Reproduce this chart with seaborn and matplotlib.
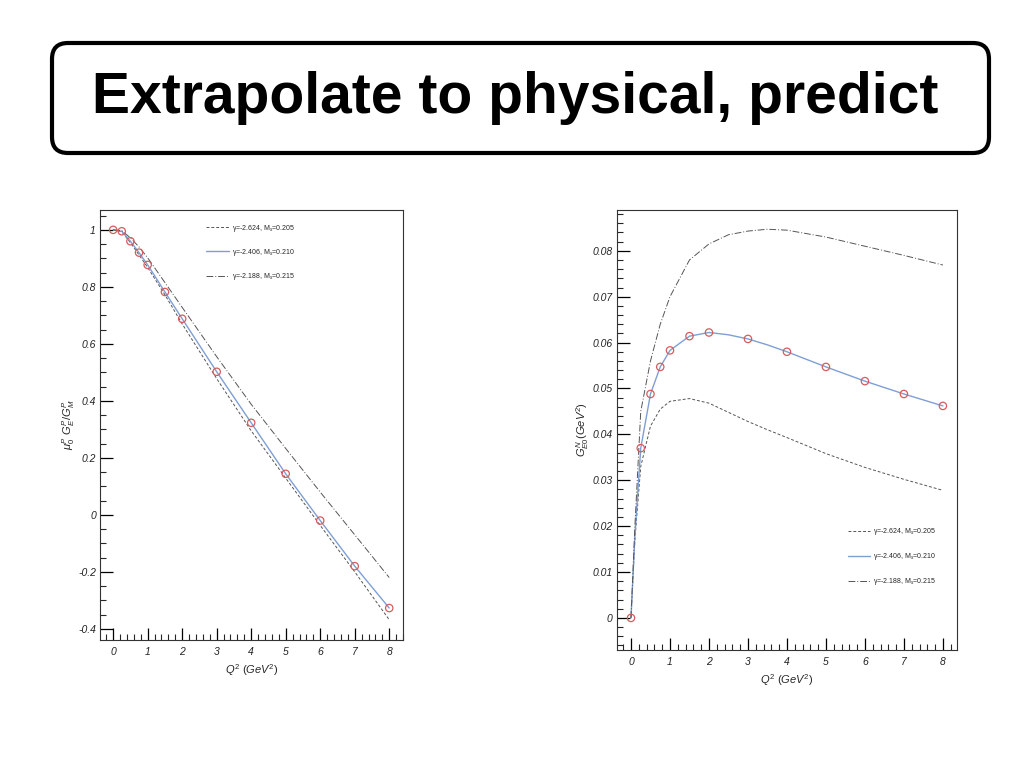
import matplotlib
matplotlib.use("Agg")
import matplotlib.pyplot as plt
import matplotlib.ticker as mticker
from matplotlib.patches import FancyBboxPatch
import seaborn as sns

# values
title = "Extrapolate to physical, predict"
labels = ["γ=-2.624, M$_s$=0.205", "γ=-2.406, M$_s$=0.210", "γ=-2.188, M$_s$=0.215"]

# left panel: mu_p G_E/G_M
q_pts = [0, 0.25, 0.5, 0.75, 1, 1.5, 2, 3, 4, 5, 6, 7, 8]
ratio_pts = [1.0, 0.995, 0.96, 0.92, 0.877, 0.782, 0.688, 0.502, 0.323, 0.144, -0.02, -0.18, -0.327]
ratio_lo = [1.0, 0.993, 0.955, 0.912, 0.868, 0.772, 0.67, 0.478, 0.295, 0.129, -0.037, -0.20, -0.368]
ratio_mid = [1.0, 0.995, 0.96, 0.92, 0.877, 0.782, 0.688, 0.502, 0.323, 0.144, -0.02, -0.18, -0.327]
ratio_hi = [1.0, 0.997, 0.972, 0.94, 0.902, 0.815, 0.728, 0.555, 0.388, 0.233, 0.08, -0.07, -0.22]

# right panel: neutron G_E
q_curve = [0, 0.1, 0.25, 0.5, 0.75, 1, 1.5, 2, 2.5, 3, 3.5, 4, 5, 6, 7, 8]
gen_lo = [0, 0.017, 0.033, 0.0418, 0.0455, 0.0472, 0.0478, 0.0468, 0.0448, 0.0428, 0.041, 0.0393, 0.0358, 0.0328, 0.0302, 0.0278]
gen_mid = [0, 0.018, 0.037, 0.0488, 0.0547, 0.0583, 0.0614, 0.0622, 0.0617, 0.0608, 0.0595, 0.058, 0.0547, 0.0516, 0.0488, 0.0462]
gen_hi = [0, 0.02, 0.045, 0.056, 0.064, 0.070, 0.078, 0.0815, 0.0835, 0.0843, 0.0847, 0.0845, 0.083, 0.081, 0.079, 0.0769]
gen_pts = [0, 0.037, 0.0488, 0.0547, 0.0583, 0.0614, 0.0622, 0.0608, 0.058, 0.0547, 0.0516, 0.0488, 0.0462]

sns.set_theme(style="ticks")
plt.rcParams['font.family'] = ['Liberation Sans', 'DejaVu Sans']
plt.rcParams['mathtext.fontset'] = 'custom'
plt.rcParams['mathtext.rm'] = 'Liberation Sans'
plt.rcParams['mathtext.it'] = 'Liberation Sans:italic'

fig = plt.figure(figsize=(10.24, 7.68), dpi=100)

# slide title in a rounded box
bg = fig.add_axes([0, 0, 1, 1])
bg.set_xlim(0, 1024)
bg.set_ylim(768, 0)
bg.axis('off')
bg.add_patch(FancyBboxPatch((52, 43), 937, 110, boxstyle="round,pad=0,rounding_size=16",
                            fc='white', ec='black', lw=3))
bg.text(92, 98, title, fontsize=41, fontweight='bold', va='center', ha='left', color='black')

style_lo = dict(color='#555555', linestyle=(0, (3, 2)), linewidth=0.7)
style_mid = dict(color='#7f9fd4', linestyle='-', linewidth=1.0)
style_hi = dict(color='#555555', linestyle=(0, (7, 2, 1, 2)), linewidth=0.7)
marker_kw = dict(marker='o', s=28, facecolor='none', edgecolor='#d45c5c', linewidth=0.9, zorder=5, legend=False)


def style_axis(ax, xlim, ylim, ymajor, yminor):
    ax.set_xlim(*xlim)
    ax.set_ylim(*ylim)
    ax.xaxis.set_major_locator(mticker.MultipleLocator(1))
    ax.xaxis.set_minor_locator(mticker.MultipleLocator(0.2))
    ax.yaxis.set_major_locator(mticker.MultipleLocator(ymajor))
    ax.yaxis.set_minor_locator(mticker.MultipleLocator(yminor))
    ax.yaxis.set_major_formatter(mticker.FuncFormatter(lambda v, p: '%g' % round(v, 4) if abs(v) > 1e-9 else '0'))
    ax.tick_params(which='major', direction='in', length=9, width=0.9, labelsize=7.5,
                   top=False, right=False, colors='black')
    ax.tick_params(axis='y', which='major', pad=3)
    ax.tick_params(axis='x', which='major', pad=5)
    ax.tick_params(which='minor', direction='in', length=4.5, width=0.8, top=False, right=False)
    for lab in ax.get_xticklabels() + ax.get_yticklabels():
        lab.set_fontstyle('italic')
        lab.set_color('#222222')
    for sp in ax.spines.values():
        sp.set_visible(True)
        sp.set_linewidth(0.8)
        sp.set_color('#333333')
    ax.set_xlabel("$Q^2$ $(GeV^2)$", fontsize=8, labelpad=4)


# left panel
ax1 = fig.add_axes([0.0977, 0.1667, 0.2959, 0.56])
sns.lineplot(x=q_pts, y=ratio_lo, ax=ax1, label=labels[0], **style_lo)
sns.lineplot(x=q_pts, y=ratio_mid, ax=ax1, label=labels[1], **style_mid)
sns.lineplot(x=q_pts, y=ratio_hi, ax=ax1, label=labels[2], **style_hi)
sns.scatterplot(x=q_pts, y=ratio_pts, ax=ax1, **marker_kw)
style_axis(ax1, (-0.38, 8.4), (-0.439, 1.07), 0.2, 0.05)
ax1.set_ylabel("$\\mu_0^P\\ G_E^P/G_M^P$", fontsize=8, labelpad=1)
ax1.legend(loc='upper left', bbox_to_anchor=(0.33, 0.985), frameon=False, fontsize=5,
           labelspacing=1.9, handlelength=3.2, handletextpad=0.5)

# right panel
ax2 = fig.add_axes([0.6025, 0.1536, 0.332, 0.573])
sns.lineplot(x=q_curve, y=gen_lo, ax=ax2, label=labels[0], **style_lo)
sns.lineplot(x=q_curve, y=gen_mid, ax=ax2, label=labels[1], **style_mid)
sns.lineplot(x=q_curve, y=gen_hi, ax=ax2, label=labels[2], **style_hi)
sns.scatterplot(x=q_pts, y=gen_pts, ax=ax2, **marker_kw)
style_axis(ax2, (-0.36, 8.36), (-0.007, 0.0889), 0.01, 0.002)
ax2.set_ylabel("$G^N_{E0}(GeV^2)$", fontsize=8, labelpad=1)
ax2.legend(loc='upper left', bbox_to_anchor=(0.66, 0.295), frameon=False, fontsize=5,
           labelspacing=2.0, handlelength=3.2, handletextpad=0.5)

fig.savefig("out.png", dpi=100)
